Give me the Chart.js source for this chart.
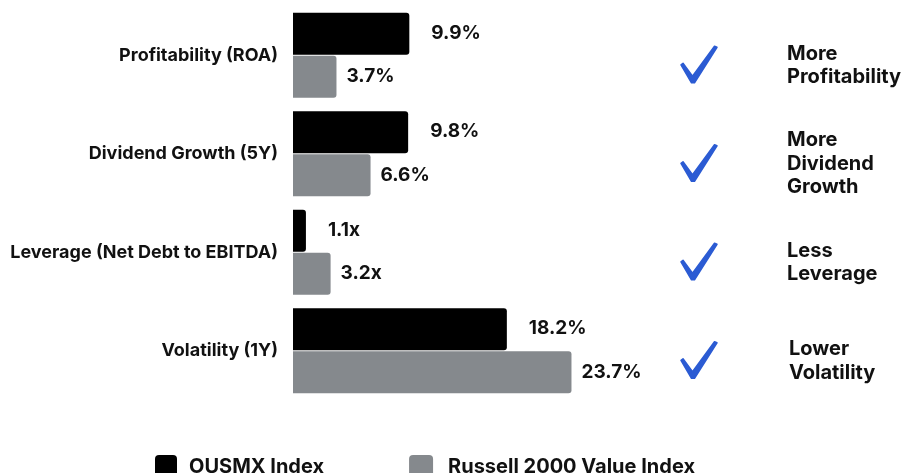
<!DOCTYPE html>
<html>
<head>
<meta charset="utf-8">
<script src="https://cdn.jsdelivr.net/npm/chart.js@4"></script>
<style>
  html, body { margin: 0; padding: 0; background: #fff; }
  #wrap { width: 901px; height: 473px; }
</style>
</head>
<body>
<div id="wrap"><canvas id="chart" width="901" height="473"></canvas></div>
<script>
// data
const categories = ['Profitability (ROA)', 'Dividend Growth (5Y)', 'Leverage (Net Debt to EBITDA)', 'Volatility (1Y)'];
const ousmxValues = [9.9, 9.8, 1.1, 18.2];
const russellValues = [3.7, 6.6, 3.2, 23.7];
const units = ['%', '%', 'x', '%'];
const verdicts = [['More', 'Profitability'], ['More', 'Dividend', 'Growth'], ['Less', 'Leverage'], ['Lower', 'Volatility']];
const seriesNames = ['OUSMX Index', 'Russell 2000 Value Index'];

const FONT = 'Inter, "Noto Sans", sans-serif';
const BLACK = '#000000';
const GREY = '#85898d';
const BLUE = '#2b5bd3';

// value labels at the end of each bar
const valueLabels = {
    id: 'valueLabels',
    afterDatasetsDraw(chart) {
        const ctx = chart.ctx;
        const offsets = [22, 10];
        ctx.save();
        ctx.font = 'bold 19px ' + FONT;
        ctx.fillStyle = '#111';
        ctx.textBaseline = 'middle';
        ctx.textAlign = 'left';
        chart.data.datasets.forEach((ds, di) => {
            chart.getDatasetMeta(di).data.forEach((bar, i) => {
                ctx.fillText(ds.data[i].toFixed(1) + units[i], bar.x + offsets[di], bar.y - (di === 0 ? 1 : 0));
            });
        });
        ctx.restore();
    }
};

// blue ticks + verdict text on the right
function drawCheck(ctx, cx, cy) {
    ctx.beginPath();
    ctx.moveTo(cx - 18, cy + 0.5);
    ctx.lineTo(cx - 16, cy - 1);
    ctx.lineTo(cx - 6.5, cy + 12);
    ctx.lineTo(cx + 15.5, cy - 18);
    ctx.lineTo(cx + 18, cy - 17);
    ctx.lineTo(cx - 4.5, cy + 18.5);
    ctx.lineTo(cx - 7.5, cy + 18.5);
    ctx.closePath();
    ctx.fill();
    ctx.stroke();
}

const verdictPlugin = {
    id: 'verdicts',
    afterDraw(chart) {
        const ctx = chart.ctx;
        const y = chart.scales.y;
        ctx.save();
        ctx.fillStyle = BLUE;
        ctx.strokeStyle = BLUE;
        ctx.lineWidth = 1.5;
        ctx.lineJoin = 'round';
        categories.forEach((c, i) => {
            drawCheck(ctx, 699, y.getPixelForValue(i) + 9);
        });
        ctx.fillStyle = '#111';
        ctx.font = 'bold 20px ' + FONT;
        ctx.textAlign = 'left';
        ctx.textBaseline = 'middle';
        const lh = 23.5;
        verdicts.forEach((lines, i) => {
            const cy = y.getPixelForValue(i) + 10;
            const top = cy - (lines.length - 1) * lh / 2;
            lines.forEach((t, k) => ctx.fillText(t, i === 3 ? 789 : 787, top + k * lh));
        });
        ctx.restore();
    }
};

// legend along the bottom edge
const bottomLegend = {
    id: 'bottomLegend',
    afterDraw(chart) {
        const ctx = chart.ctx;
        ctx.save();
        ctx.font = 'bold 20px ' + FONT;
        ctx.textBaseline = 'alphabetic';
        ctx.textAlign = 'left';
        let x = 155;
        chart.data.datasets.forEach((ds, di) => {
            const bw = di === 0 ? 22 : 24;
            ctx.fillStyle = ds.backgroundColor;
            ctx.beginPath();
            ctx.roundRect(x, 455, bw, 24, 4);
            ctx.fill();
            x += bw + (di === 0 ? 12 : 15);
            ctx.fillStyle = '#111';
            ctx.fillText(ds.label, x, 472.5);
            x += ctx.measureText(ds.label).width + 85;
        });
        ctx.restore();
    }
};

new Chart(document.getElementById('chart'), {
    type: 'bar',
    data: {
        labels: categories,
        datasets: [
            { label: seriesNames[0], data: ousmxValues, backgroundColor: BLACK },
            { label: seriesNames[1], data: russellValues, backgroundColor: GREY }
        ]
    },
    options: {
        indexAxis: 'y',
        responsive: false,
        animation: false,
        layout: { padding: { top: 6, bottom: 73, left: 0, right: 138 } },
        datasets: {
            bar: { categoryPercentage: 0.87, barPercentage: 0.98, borderRadius: 3, borderSkipped: 'start' }
        },
        scales: {
            x: { display: false, min: 0, max: 40 },
            y: {
                grid: { display: false, drawTicks: false },
                border: { display: false },
                ticks: { color: '#111', padding: 15, font: { family: FONT, size: 18, weight: 'bold' } },
                afterFit(scale) {
                    scale.width = 293;
                    scale.paddingTop = 0;
                    scale.paddingBottom = 0;
                }
            }
        },
        plugins: {
            legend: { display: false },
            tooltip: { enabled: false }
        }
    },
    plugins: [valueLabels, verdictPlugin, bottomLegend]
});
</script>
</body>
</html>
